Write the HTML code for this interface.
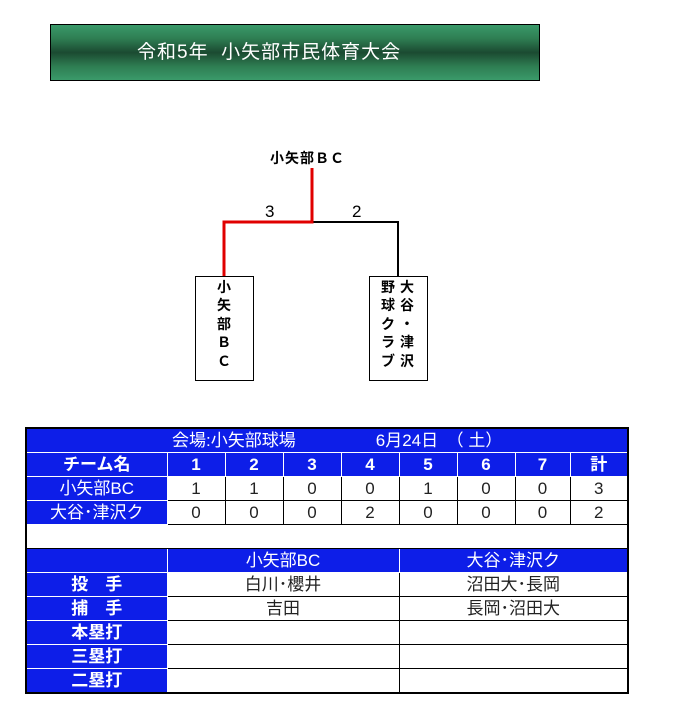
<!DOCTYPE html>
<html><head><meta charset="utf-8"><style>
body{margin:0;width:685px;height:711px;background:#fff;position:relative;overflow:hidden;font-family:"Liberation Sans","Noto Sans CJK JP",sans-serif}
.a{position:absolute}
.title{left:50px;top:24px;width:488px;height:55px;border:1px solid #000;background:linear-gradient(#3a9a6a 0%,#2e7d52 25%,#1b4a31 50%,#2e7d52 75%,#3a9a6a 100%);color:#fff;font-size:19px;line-height:55px;letter-spacing:1px}
.box{border:1px solid #000;background:#fff}
.vt{position:absolute;font-size:14px;font-weight:bold;line-height:18.4px;text-align:center;width:16px}
table{position:absolute;left:25px;top:427px;border-collapse:collapse;border:2px solid #000;table-layout:fixed;width:602px}
td{height:23px;padding:0;border:1px solid #000;text-align:center;font-size:17px;line-height:23px}
.b{background:#0d1ee8;color:#fff;border-color:#fff}
.h{font-weight:bold;font-size:17px}
.w{background:#fff;color:#222}
</style></head><body>
<div class="a title"><span style="position:absolute;left:86px">令和5年&nbsp;&nbsp;小矢部市民体育大会</span></div>
<div class="a" style="left:270px;top:148px;font-size:14px;font-weight:bold;letter-spacing:1px">小矢部ＢＣ</div>
<svg class="a" style="left:0;top:0" width="685" height="400">
<polyline points="398,276 398,222 312,222" fill="none" stroke="#000" stroke-width="2"/>
<polyline points="312,168 312,222 224,222 224,276" fill="none" stroke="#e00000" stroke-width="3"/>
</svg>
<div class="a" style="left:265px;top:202px;font-size:17px">3</div>
<div class="a" style="left:352px;top:202px;font-size:17px">2</div>
<div class="a box" style="left:195px;top:276px;width:57px;height:103px"></div>
<div class="a box" style="left:369px;top:276px;width:57px;height:103px"></div>
<div class="vt" style="left:216px;top:278px">小<br>矢<br>部<br>Ｂ<br>Ｃ</div>
<div class="vt" style="left:380px;top:278px">野<br>球<br>ク<br>ラ<br>ブ</div>
<div class="vt" style="left:399px;top:278px">大<br>谷<br>・<br>津<br>沢</div>
<table>
<colgroup><col style="width:141px"><col style="width:58px"><col style="width:58px"><col style="width:58px"><col style="width:58px"><col style="width:58px"><col style="width:58px"><col style="width:55px"><col style="width:58px"></colgroup>
<tr><td class="b" colspan="9" style="text-align:left;padding-left:145px">会場:小矢部球場<span style="display:inline-block;width:80px"></span>6月24日　（ 土）</td></tr>
<tr><td class="b h">チーム名</td><td class="b h">1</td><td class="b h">2</td><td class="b h">3</td><td class="b h">4</td><td class="b h">5</td><td class="b h">6</td><td class="b h">7</td><td class="b h">計</td></tr>
<tr><td class="b">小矢部BC</td><td class="w">1</td><td class="w">1</td><td class="w">0</td><td class="w">0</td><td class="w">1</td><td class="w">0</td><td class="w">0</td><td class="w">3</td></tr>
<tr><td class="b">大谷･津沢ク</td><td class="w">0</td><td class="w">0</td><td class="w">0</td><td class="w">2</td><td class="w">0</td><td class="w">0</td><td class="w">0</td><td class="w">2</td></tr>
<tr><td class="w" colspan="9"></td></tr>
<tr><td class="b"></td><td class="b" colspan="4">小矢部BC</td><td class="b" colspan="4">大谷･津沢ク</td></tr>
<tr><td class="b h">投　手</td><td class="w" colspan="4">白川･櫻井</td><td class="w" colspan="4">沼田大･長岡</td></tr>
<tr><td class="b h">捕　手</td><td class="w" colspan="4">吉田</td><td class="w" colspan="4">長岡･沼田大</td></tr>
<tr><td class="b h">本塁打</td><td class="w" colspan="4"></td><td class="w" colspan="4"></td></tr>
<tr><td class="b h">三塁打</td><td class="w" colspan="4"></td><td class="w" colspan="4"></td></tr>
<tr><td class="b h">二塁打</td><td class="w" colspan="4"></td><td class="w" colspan="4"></td></tr>
</table>
</body></html>
